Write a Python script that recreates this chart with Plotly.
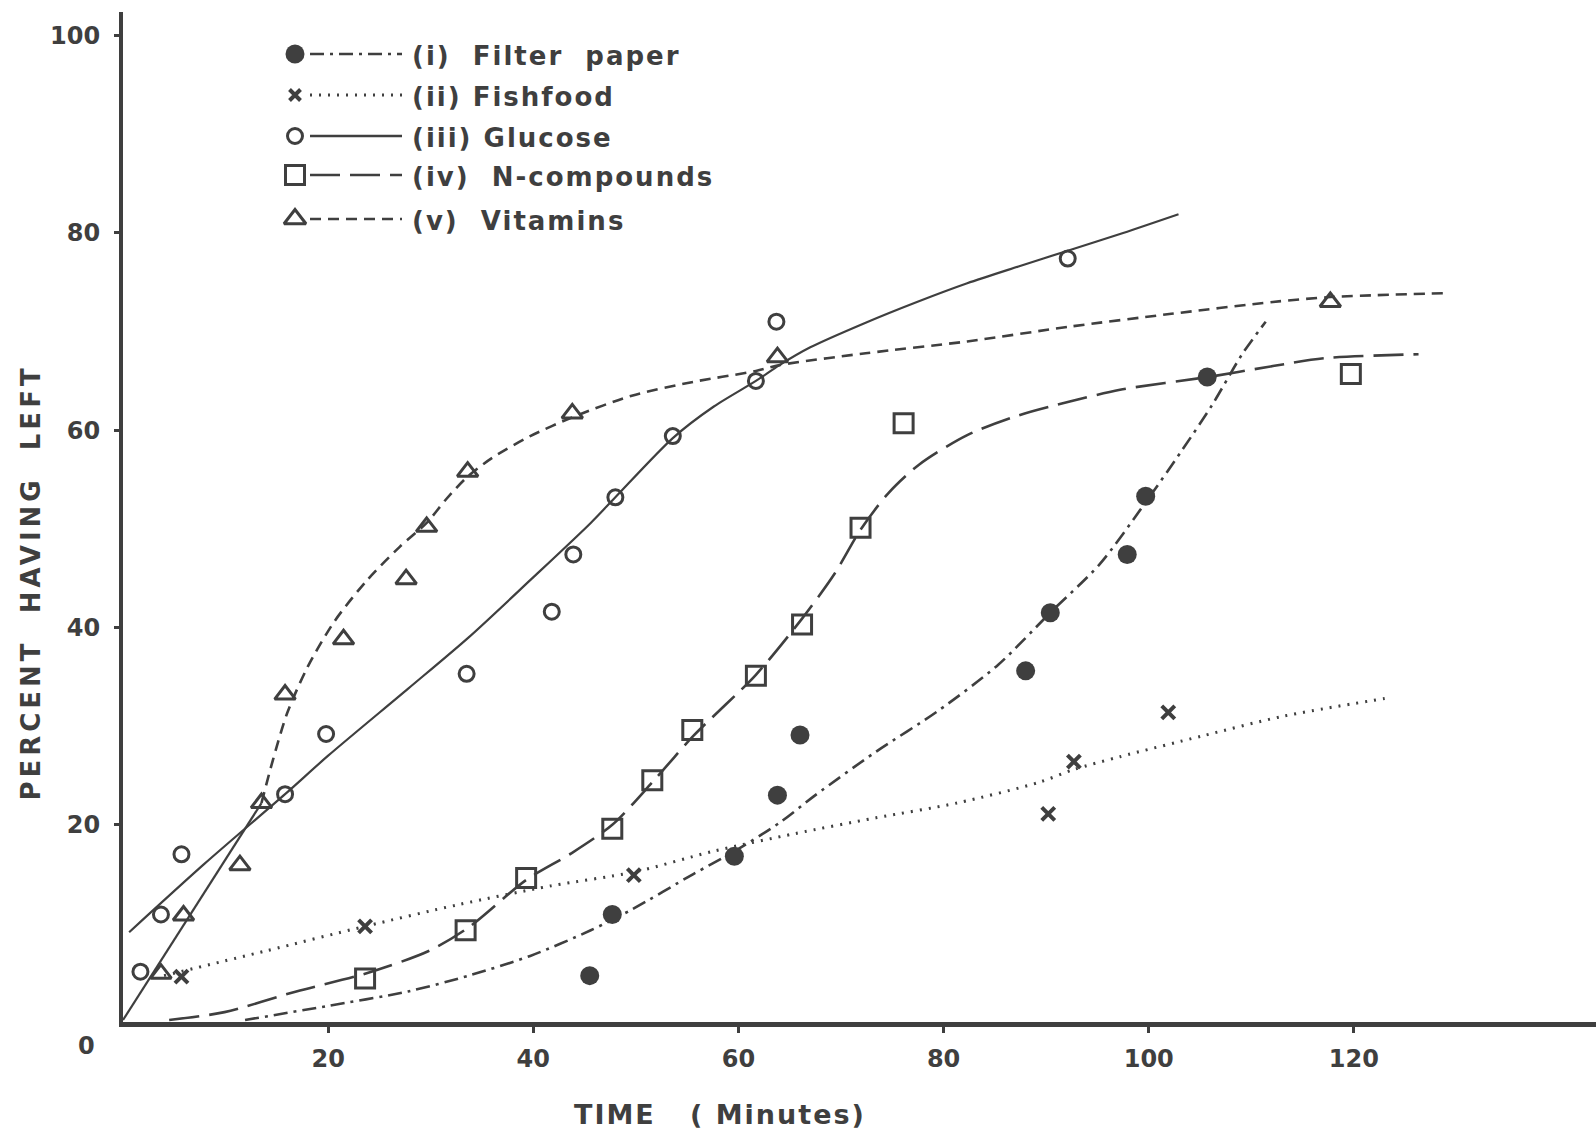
import plotly.graph_objects as go

INK = "#3f3f3f"
FONT = "DejaVu Sans"

# ---------------- data (time in minutes, percent having left) ----------------
filter_x = [45.5, 47.7, 59.6, 63.8, 66.0, 88.0, 90.4, 97.9, 99.7, 105.7]
filter_y = [4.7, 10.9, 16.8, 23.0, 29.1, 35.6, 41.5, 47.4, 53.3, 65.4]
filter_cx = [11.9, 19.8, 27.8, 33.7, 39.7, 45.6, 49.6, 55.6, 59.6, 64.0, 67.5, 73.4, 79.4, 85.3, 90.4, 95.2, 99.7, 103.2, 106.2, 109.1, 111.4]
filter_cy = [0.2, 1.6, 3.1, 4.7, 6.7, 9.3, 11.4, 15.0, 17.3, 20.2, 23.0, 27.4, 31.5, 36.2, 41.5, 46.4, 52.7, 57.9, 62.6, 67.7, 71.0]

fish_x = [5.7, 23.6, 49.8, 90.2, 92.7, 101.9]
fish_y = [4.6, 9.7, 14.9, 21.1, 26.4, 31.4]
fish_cx = [4.0, 13.9, 23.6, 32.7, 41.7, 49.8, 57.5, 65.5, 73.4, 81.3, 89.3, 92.7, 97.2, 105.2, 113.1, 123.0]
fish_cy = [4.7, 7.2, 9.7, 11.9, 13.8, 15.2, 17.3, 19.1, 20.7, 22.2, 24.3, 25.6, 26.9, 29.0, 31.0, 32.8]

gluc_x = [1.7, 3.7, 5.7, 15.8, 19.8, 33.5, 41.8, 43.9, 48.0, 53.6, 61.7, 63.7, 92.1]
gluc_y = [5.1, 10.9, 17.0, 23.1, 29.2, 35.3, 41.6, 47.4, 53.2, 59.4, 65.0, 71.0, 77.4]
gluc_cx = [0.6, 7.9, 15.8, 20.0, 27.8, 33.7, 39.7, 45.6, 48.0, 53.6, 57.6, 61.7, 64.0, 67.0, 72.4, 77.4, 82.3, 87.3, 92.1, 97.5, 102.9]
gluc_cy = [9.1, 16.0, 23.1, 27.0, 33.8, 39.0, 44.8, 50.6, 53.2, 59.2, 62.4, 65.0, 66.6, 68.4, 70.9, 73.0, 74.9, 76.6, 78.2, 80.0, 81.9]

ncomp_x = [23.6, 33.4, 39.3, 47.7, 51.6, 55.5, 61.7, 66.2, 71.9, 76.1, 119.7]
ncomp_y = [4.4, 9.3, 14.6, 19.6, 24.5, 29.6, 35.1, 40.3, 50.1, 60.7, 65.7]
ncomp_cx = [4.5, 9.9, 16.9, 23.6, 29.8, 33.7, 39.3, 43.7, 47.7, 51.6, 55.6, 61.7, 66.2, 69.4, 71.9, 74.6, 77.6, 82.3, 87.3, 92.3, 97.2, 105.8, 112.1, 117.1, 126.3]
ncomp_cy = [0.2, 1.0, 3.1, 4.9, 7.2, 9.6, 14.4, 17.1, 20.0, 24.3, 29.0, 35.2, 40.9, 45.5, 49.9, 53.6, 56.5, 59.5, 61.5, 62.9, 64.1, 65.4, 66.5, 67.3, 67.7]

vit_x = [3.7, 5.9, 11.4, 13.5, 15.8, 21.5, 27.6, 29.6, 33.6, 43.8, 63.8, 117.7]
vit_y = [4.9, 10.8, 15.9, 22.2, 33.2, 38.8, 44.9, 50.2, 55.8, 61.7, 67.4, 73.0]
vit_sx = [0.0, 13.5]
vit_sy = [0.2, 22.2]
vit_cx = [13.5, 14.6, 16.0, 18.0, 20.6, 23.8, 27.0, 29.6, 31.5, 33.6, 36.0, 39.7, 43.8, 49.6, 55.6, 61.7, 64.0, 72.4, 82.3, 92.3, 102.2, 112.1, 117.7, 129.0]
vit_cy = [22.2, 26.5, 31.3, 36.0, 40.6, 44.8, 48.2, 50.6, 53.0, 55.3, 57.2, 59.4, 61.3, 63.5, 64.9, 66.0, 66.6, 67.8, 69.0, 70.5, 71.8, 73.0, 73.5, 73.9]

x_ticks = [20, 40, 60, 80, 100, 120]
y_ticks = [20, 40, 60, 80, 100]

legend_labels = ["(i)  Filter  paper", "(ii) Fishfood", "(iii) Glucose", "(iv)  N-compounds", "(v)  Vitamins"]

# ---------------- styles ----------------
DASH_FILTER = "14px,6px,3px,6px"
DASH_FISH = "2px,7px"
DASH_NCOMP = "30px,10px"
DASH_VIT = "11px,7px"

def spaced(t, px=2):
    return '<span style="letter-spacing:%dpx">%s</span>' % (px, t)

fig = go.Figure()

def curve(x, y, dash, width=2.6):
    fig.add_trace(go.Scatter(x=x, y=y, mode="lines", line=dict(color=INK, width=width, dash=dash, shape="spline", smoothing=0.8),
                             hoverinfo="skip", showlegend=False))

def pts(x, y, symbol, size, lw=2.6):
    fig.add_trace(go.Scatter(x=x, y=y, mode="markers", cliponaxis=False,
                             marker=dict(symbol=symbol, size=size, color=INK, line=dict(color=INK, width=lw)),
                             showlegend=False))

curve(filter_cx, filter_cy, DASH_FILTER)
curve(fish_cx, fish_cy, DASH_FISH, 3)
curve(gluc_cx, gluc_cy, "solid", 2.2)
curve(ncomp_cx, ncomp_cy, DASH_NCOMP)
curve(vit_sx, vit_sy, "solid", 2.2)
curve(vit_cx, vit_cy, DASH_VIT)

pts(filter_x, filter_y, "circle", 19, 0)
pts(fish_x, fish_y, "x-thin", 13, 4)
pts(gluc_x, gluc_y, "circle-open", 15, 3)
pts(ncomp_x, ncomp_y, "square-open", 19, 3)
pts(vit_x, vit_y, "triangle-up-open", 18, 3)

# ---------------- hand-drawn style legend (pixel overlay axes) ----------------
row_y = [54, 95, 136, 175, 219]
mark_x = 295
line_x0, line_x1 = 310, 402
text_x = 410
legend_syms = [("circle", 19, 0), ("x-thin", 11, 4), ("circle-open", 15, 3), ("square-open", 19, 3), ("triangle-up-open", 19, 3)]
legend_dash = [DASH_FILTER, DASH_FISH, "solid", DASH_NCOMP, DASH_VIT]
for i in range(5):
    fig.add_trace(go.Scatter(x=[line_x0, line_x1], y=[row_y[i], row_y[i]], xaxis="x2", yaxis="y2", mode="lines",
                             line=dict(color=INK, width=2.6 if i != 1 else 3, dash=legend_dash[i]), showlegend=False, hoverinfo="skip"))
    s, sz, lw = legend_syms[i]
    fig.add_trace(go.Scatter(x=[mark_x], y=[row_y[i]], xaxis="x2", yaxis="y2", mode="markers",
                             marker=dict(symbol=s, size=sz, color=INK, line=dict(color=INK, width=lw)), showlegend=False, hoverinfo="skip"))
    fig.add_annotation(x=text_x, y=row_y[i] + 2, xref="x2", yref="y2", text=spaced(legend_labels[i], 2), showarrow=False,
                       xanchor="left", yanchor="middle", font=dict(family=FONT, size=26, color=INK, weight="bold"))

# origin label
fig.add_annotation(x=-0.0245, y=-0.0235, xref="paper", yref="paper", text="0", showarrow=False, xanchor="center", yanchor="middle",
                   font=dict(family=FONT, size=24, color=INK, weight="bold"))
# axis titles placed like the hand lettering
fig.add_annotation(x=-0.0625, y=0.435, xref="paper", yref="paper", text=spaced("PERCENT  HAVING  LEFT", 4), textangle=-90,
                   showarrow=False, xanchor="center", yanchor="middle",
                   font=dict(family=FONT, size=26, color=INK, weight="bold"))
fig.add_annotation(x=0.405, y=-0.092, xref="paper", yref="paper", text=spaced("TIME   ( Minutes)", 2),
                   showarrow=False, xanchor="center", yanchor="middle",
                   font=dict(family=FONT, size=27, color=INK, weight="bold"))

tickfont = dict(family=FONT, size=24, color=INK, weight="bold")
fig.update_layout(
    width=1596, height=1134,
    margin=dict(l=123, r=0, t=12, b=112),
    paper_bgcolor="white", plot_bgcolor="white",
    xaxis=dict(range=[0, 143.6], showgrid=False, zeroline=False, showline=True, linecolor=INK, linewidth=5,
               tickvals=x_ticks, ticktext=[str(v) for v in x_ticks], ticks="outside", ticklen=6, tickwidth=3, tickcolor=INK,
               tickfont=tickfont, ticklabelstandoff=5),
    yaxis=dict(range=[0, 102.4], showgrid=False, zeroline=False, showline=True, linecolor=INK, linewidth=4,
               tickvals=y_ticks, ticktext=[str(v) for v in y_ticks], ticks="outside", ticklen=5, tickwidth=3, tickcolor=INK,
               tickfont=tickfont, ticklabelstandoff=9),
    xaxis2=dict(range=[123, 1596], overlaying="x", visible=False, fixedrange=True),
    yaxis2=dict(range=[1022, 12], overlaying="y", visible=False, fixedrange=True),
    showlegend=False,
)

fig.write_html("out.html")
